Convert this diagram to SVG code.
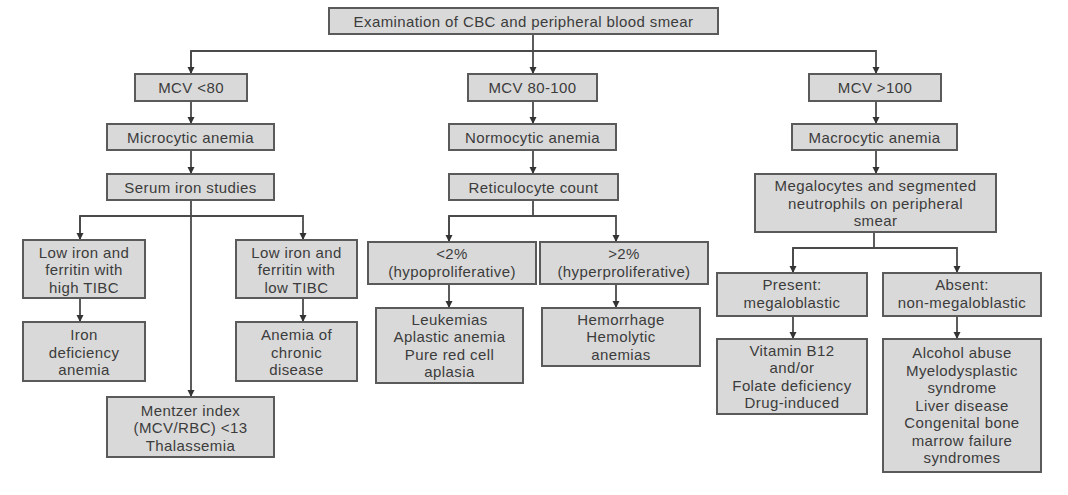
<svg xmlns="http://www.w3.org/2000/svg" width="1068" height="495" viewBox="0 0 1068 495">
<defs>
<style>
.box{fill:#d9d9d9;stroke:#5a5a5a;stroke-width:2}
.t{font-family:"Liberation Sans",Arial,sans-serif;font-size:15px;fill:#3c3c3c;text-anchor:middle;letter-spacing:0.4px}
.c{fill:none;stroke:#4a4a4a;stroke-width:1.8}
</style>
<marker id="ah" viewBox="0 0 10 10" markerWidth="7" markerHeight="9" refX="10" refY="5" orient="auto" markerUnits="userSpaceOnUse">
<path d="M0,0 L10,5 L0,10 z" fill="#333"/>
</marker>
</defs>
<rect width="1068" height="495" fill="#fff"/>
<g id="connectors">
<path class="c" d="M533,34 V74" marker-end="url(#ah)"/>
<path class="c" d="M191,74 V51 H876 V74" marker-end="url(#ah)"/>
<path class="c" d="M191,51 V74" marker-end="url(#ah)"/>
<path class="c" d="M191,101 V124" marker-end="url(#ah)"/>
<path class="c" d="M191,150 V174" marker-end="url(#ah)"/>
<path class="c" d="M191,200 V397" marker-end="url(#ah)"/>
<path class="c" d="M80,240 V216 H303 V240" marker-end="url(#ah)"/>
<path class="c" d="M80,216 V240" marker-end="url(#ah)"/>
<path class="c" d="M80,298 V322" marker-end="url(#ah)"/>
<path class="c" d="M303,298 V322" marker-end="url(#ah)"/>
<path class="c" d="M533,101 V124" marker-end="url(#ah)"/>
<path class="c" d="M533,150 V174" marker-end="url(#ah)"/>
<path class="c" d="M533,200 V216"/>
<path class="c" d="M449,242 V216 H616 V242" marker-end="url(#ah)"/>
<path class="c" d="M449,216 V242" marker-end="url(#ah)"/>
<path class="c" d="M449,284 V308" marker-end="url(#ah)"/>
<path class="c" d="M616,284 V308" marker-end="url(#ah)"/>
<path class="c" d="M876,101 V124" marker-end="url(#ah)"/>
<path class="c" d="M876,150 V174" marker-end="url(#ah)"/>
<path class="c" d="M874,232 V248"/>
<path class="c" d="M793,273 V248 H957 V273" marker-end="url(#ah)"/>
<path class="c" d="M793,248 V273" marker-end="url(#ah)"/>
<path class="c" d="M793,316 V339" marker-end="url(#ah)"/>
<path class="c" d="M957,316 V339" marker-end="url(#ah)"/>
</g>
<g id="n-top"><rect class="box" x="329" y="8" width="389" height="26"/><text class="t" x="523.5" y="26.5">Examination of CBC and peripheral blood smear</text></g>
<g id="n-mcv80"><rect class="box" x="135" y="74" width="112" height="27"/><text class="t" x="191" y="93">MCV &lt;80</text></g>
<g id="n-mcv80100"><rect class="box" x="468" y="74" width="129" height="27"/><text class="t" x="532.5" y="93">MCV 80-100</text></g>
<g id="n-mcv100"><rect class="box" x="809" y="74" width="132" height="27"/><text class="t" x="875" y="93">MCV &gt;100</text></g>
<g id="n-micro"><rect class="box" x="107" y="124" width="167" height="26"/><text class="t" x="190.5" y="142.5">Microcytic anemia</text></g>
<g id="n-normo"><rect class="box" x="449" y="124" width="167" height="26"/><text class="t" x="532.5" y="142.5">Normocytic anemia</text></g>
<g id="n-macro"><rect class="box" x="792" y="124" width="165" height="26"/><text class="t" x="874.5" y="142.5">Macrocytic anemia</text></g>
<g id="n-serum"><rect class="box" x="107" y="174" width="167" height="26"/><text class="t" x="190.5" y="192.5">Serum iron studies</text></g>
<g id="n-retic"><rect class="box" x="449" y="174" width="169" height="26"/><text class="t" x="533.5" y="192.5">Reticulocyte count</text></g>
<g id="n-mega"><rect class="box" x="755" y="174" width="241" height="58"/><text class="t" x="875.5"><tspan x="875.5" y="191">Megalocytes and segmented</tspan><tspan x="875.5" y="208.5">neutrophils on peripheral</tspan><tspan x="875.5" y="226">smear</tspan></text></g>
<g id="n-lowhigh"><rect class="box" x="23" y="240" width="122" height="58"/><text class="t"><tspan x="84" y="257.5">Low iron and</tspan><tspan x="84" y="275">ferritin with</tspan><tspan x="84" y="292.5">high TIBC</tspan></text></g>
<g id="n-lowlow"><rect class="box" x="236" y="240" width="121" height="58"/><text class="t"><tspan x="296.5" y="257.5">Low iron and</tspan><tspan x="296.5" y="275">ferritin with</tspan><tspan x="296.5" y="292.5">low TIBC</tspan></text></g>
<g id="n-irondef"><rect class="box" x="23" y="322" width="122" height="59"/><text class="t"><tspan x="84" y="340">Iron</tspan><tspan x="84" y="357.5">deficiency</tspan><tspan x="84" y="375">anemia</tspan></text></g>
<g id="n-chronic"><rect class="box" x="236" y="322" width="121" height="59"/><text class="t"><tspan x="296.5" y="340">Anemia of</tspan><tspan x="296.5" y="357.5">chronic</tspan><tspan x="296.5" y="375">disease</tspan></text></g>
<g id="n-mentzer"><rect class="box" x="107" y="397" width="167" height="60"/><text class="t"><tspan x="190.5" y="415.5">Mentzer index</tspan><tspan x="190.5" y="433">(MCV/RBC) &lt;13</tspan><tspan x="190.5" y="450.5">Thalassemia</tspan></text></g>
<g id="n-hypo"><rect class="box" x="368" y="242" width="168" height="42"/><text class="t"><tspan x="452" y="259">&lt;2%</tspan><tspan x="452" y="277">(hypoproliferative)</tspan></text></g>
<g id="n-hyper"><rect class="box" x="540" y="242" width="168" height="42"/><text class="t"><tspan x="624" y="259">&gt;2%</tspan><tspan x="624" y="277">(hyperproliferative)</tspan></text></g>
<g id="n-leuk"><rect class="box" x="376" y="308" width="147" height="75"/><text class="t"><tspan x="449.5" y="325">Leukemias</tspan><tspan x="449.5" y="342">Aplastic anemia</tspan><tspan x="449.5" y="359.5">Pure red cell</tspan><tspan x="449.5" y="377">aplasia</tspan></text></g>
<g id="n-hemo"><rect class="box" x="542" y="308" width="158" height="58"/><text class="t"><tspan x="621" y="325">Hemorrhage</tspan><tspan x="621" y="342">Hemolytic</tspan><tspan x="621" y="359.5">anemias</tspan></text></g>
<g id="n-present"><rect class="box" x="717" y="273" width="150" height="43"/><text class="t"><tspan x="792" y="290">Present:</tspan><tspan x="792" y="308">megaloblastic</tspan></text></g>
<g id="n-absent"><rect class="box" x="883" y="273" width="158" height="43"/><text class="t"><tspan x="962" y="290">Absent:</tspan><tspan x="962" y="308">non-megaloblastic</tspan></text></g>
<g id="n-vitb12"><rect class="box" x="717" y="339" width="150" height="75"/><text class="t"><tspan x="792" y="356">Vitamin B12</tspan><tspan x="792" y="373">and/or</tspan><tspan x="792" y="390.5">Folate deficiency</tspan><tspan x="792" y="408">Drug-induced</tspan></text></g>
<g id="n-alcohol"><rect class="box" x="883" y="339" width="158" height="133"/><text class="t"><tspan x="962" y="358">Alcohol abuse</tspan><tspan x="962" y="375.5">Myelodysplastic</tspan><tspan x="962" y="393">syndrome</tspan><tspan x="962" y="410.5">Liver disease</tspan><tspan x="962" y="428">Congenital bone</tspan><tspan x="962" y="445.5">marrow failure</tspan><tspan x="962" y="463">syndromes</tspan></text></g>
</svg>
